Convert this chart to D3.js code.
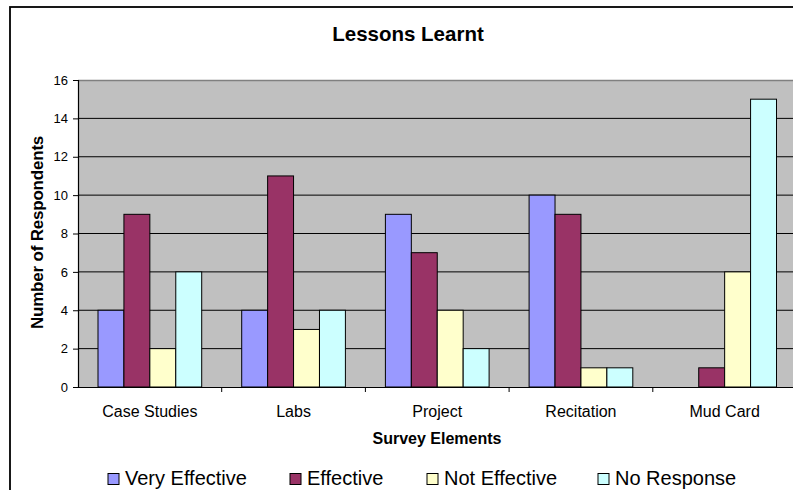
<!DOCTYPE html>
<html><head><meta charset="utf-8">
<script src="https://cdn.jsdelivr.net/npm/d3@7"></script>
<style>html,body{margin:0;padding:0;background:#fff;}svg{display:block;font-family:"Liberation Sans",Arial,sans-serif;}</style>
</head><body>
<svg id="c" width="793" height="490"></svg>
<script>
const categories = ["Case Studies", "Labs", "Project", "Recitation", "Mud Card"];
const seriesNames = ["Very Effective", "Effective", "Not Effective", "No Response"];
const veryEffective = [4, 4, 9, 10, 0];
const effective = [9, 11, 7, 9, 1];
const notEffective = [2, 3, 4, 1, 6];
const noResponse = [6, 4, 2, 1, 15];
const yTicks = [0, 2, 4, 6, 8, 10, 12, 14, 16];
const colors = ["#9999FF", "#993366", "#FFFFCC", "#CCFFFF"];

const seriesValues = [veryEffective, effective, notEffective, noResponse];
const svg = d3.select("#c");
const FONT = "Liberation Sans, Arial, sans-serif";

// outer chart border
svg.append("rect").attr("x", 10).attr("y", 7).attr("width", 800).attr("height", 500)
  .attr("fill", "#fff").attr("stroke", "#000").attr("stroke-width", 1.8);

const L = 78, R = 796.5, T = 80, B = 387;
const x0 = d3.scaleBand().domain(categories).range([L, R]).paddingInner(0).paddingOuter(0);
const x1 = d3.scaleBand().domain(seriesNames).range([20, x0.bandwidth() - 20]).padding(0);
const y = d3.scaleLinear().domain([0, 16]).range([B, T]);

svg.append("rect").attr("x", L).attr("y", T).attr("width", R - L).attr("height", B - T)
  .attr("fill", "#C0C0C0");
svg.append("line").attr("x1", L).attr("x2", R).attr("y1", T + 0.5).attr("y2", T + 0.5)
  .attr("stroke", "#808080").attr("stroke-width", 1.5);

// gridlines
svg.append("g").selectAll("line").data(yTicks.filter(d => d > 0 && d < 16)).join("line")
  .attr("x1", L).attr("x2", R).attr("y1", d => y(d)).attr("y2", d => y(d))
  .attr("stroke", "#000").attr("stroke-width", 1);

// bars
const data = [];
categories.forEach((c, i) => seriesNames.forEach((s, j) => data.push({c, s, v: seriesValues[j][i], j})));
svg.append("g").selectAll("rect").data(data.filter(d => d.v > 0)).join("rect")
  .attr("x", d => x0(d.c) + x1(d.s))
  .attr("y", d => y(d.v))
  .attr("width", x1.bandwidth())
  .attr("height", d => y(0) - y(d.v))
  .attr("fill", d => colors[d.j])
  .attr("stroke", "#000").attr("stroke-width", 1);

// y axis
const yAxis = svg.append("g").attr("transform", `translate(${L},0)`)
  .call(d3.axisLeft(y).tickValues(yTicks).tickSize(5).tickPadding(5).tickFormat(d3.format("d")));
yAxis.select(".domain").attr("stroke", "#000").attr("stroke-width", 1.2);
yAxis.selectAll("text").attr("font-size", 13).attr("fill", "#000").attr("font-family", FONT);

// x axis
const xAxis = svg.append("g").attr("transform", `translate(0,${B})`)
  .call(d3.axisBottom(x0).tickSize(0).tickPadding(22));
xAxis.select(".domain").attr("stroke", "#000").attr("stroke-width", 1.2);
xAxis.selectAll("text").attr("font-size", 16).attr("fill", "#000").attr("font-family", FONT)
  .attr("dy", "0.5em");
svg.append("g").selectAll("line").data(categories.slice(1)).join("line")
  .attr("x1", d => x0(d)).attr("x2", d => x0(d)).attr("y1", B).attr("y2", B + 5)
  .attr("stroke", "#000");

// titles
svg.append("text").attr("x", 408).attr("y", 41).attr("text-anchor", "middle")
  .attr("font-size", 20.5).attr("font-weight", "bold").text("Lessons Learnt");
svg.append("text").attr("x", 437).attr("y", 444).attr("text-anchor", "middle")
  .attr("font-size", 16).attr("font-weight", "bold").text("Survey Elements");
svg.append("text").attr("transform", `translate(43,${(T + B) / 2 - 1}) rotate(-90)`)
  .attr("text-anchor", "middle").attr("font-size", 17).attr("font-weight", "bold")
  .attr("letter-spacing", -0.2)
  .text("Number of Respondents");

// legend
const legendX = [108, 290, 427, 598];
const lg = svg.append("g").selectAll("g").data(seriesNames).join("g")
  .attr("transform", (d, i) => `translate(${legendX[i]},473.5)`);
lg.append("rect").attr("width", 11).attr("height", 11)
  .attr("fill", (d, i) => colors[i]).attr("stroke", "#000").attr("stroke-width", 1);
lg.append("text").attr("x", 17).attr("y", 11.5).attr("font-size", 20).attr("fill", "#000").text(d => d);
</script>
</body></html>
